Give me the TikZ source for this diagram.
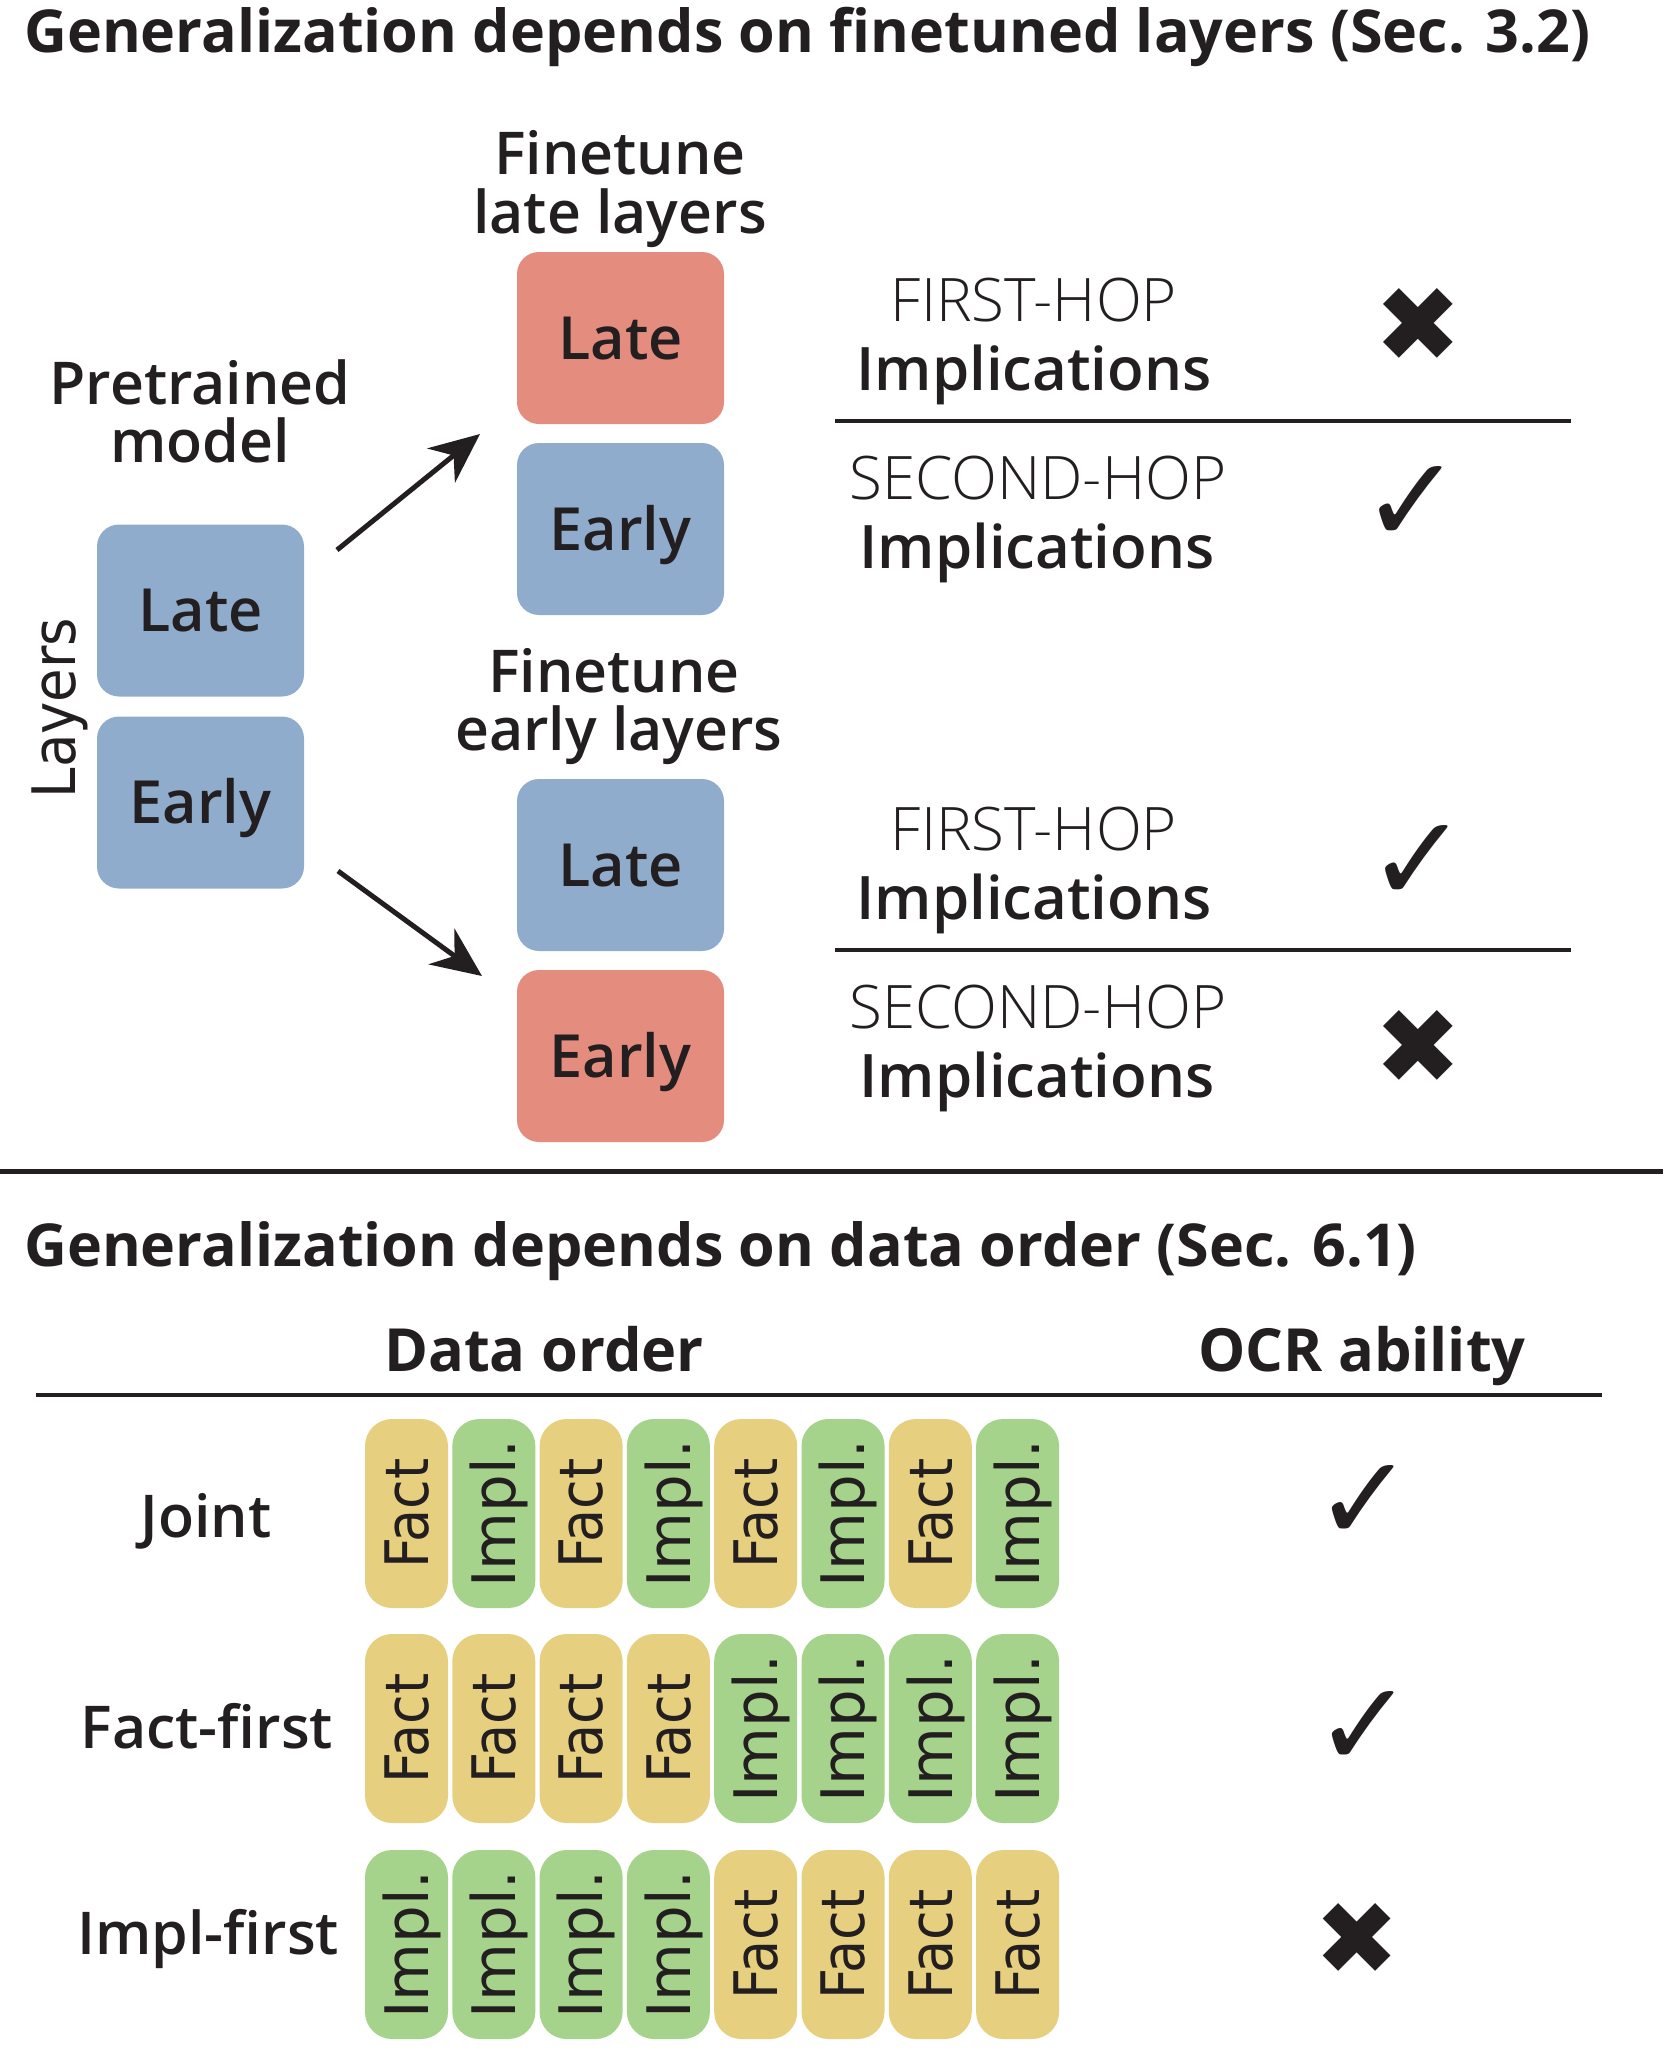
\documentclass[tikz,border=0pt]{standalone}
\usepackage{fontspec}
\usepackage{graphicx}
\setmainfont{Open Sans}
\newfontfamily\tah{DejaVu Sans}
\newfontfamily\sym{DejaVu Sans}
\IfFontExistsTF{Open Sans Light}{\newfontfamily\lightf{Open Sans Light}}{\newfontfamily\lightf{Open Sans}}
\IfFontExistsTF{Open Sans SemiBold}{\newfontfamily\semib{Open Sans SemiBold}\def\labsz{59}}{%
 \IfFontExistsTF{Open Sans Semibold}{\newfontfamily\semib{Open Sans Semibold}\def\labsz{59}}{%
  \newfontfamily\semib{Open Sans}[FakeBold=0.5]\def\labsz{61}}}
\usetikzlibrary{arrows.meta}
\definecolor{ink}{HTML}{231F20}
\definecolor{lblue}{HTML}{8FACCC}
\definecolor{lred}{HTML}{E48C7E}
\definecolor{lyel}{HTML}{E7CF80}
\definecolor{lgrn}{HTML}{A5D38B}
\begin{document}
\begin{tikzpicture}[x=1pt,y=-1pt,
  txt/.style={inner sep=0pt, anchor=base, text=ink, font=\semib\fontsize{\labsz}{\labsz}\selectfont},
  ttl/.style={inner sep=0pt, anchor=base west, text=ink, font=\bfseries\fontsize{59.2}{59.2}\selectfont},
  hdr/.style={inner sep=0pt, anchor=base, text=ink, font=\bfseries\fontsize{59.5}{59.5}\selectfont},
  hop/.style={inner sep=0pt, anchor=base, text=ink, font=\lightf\fontsize{60}{60}\selectfont},
  impl/.style={inner sep=0pt, anchor=base, text=ink, font=\semib\fontsize{60}{60}\selectfont},
  layerbox/.style={rounded corners=22pt, minimum width=207pt, minimum height=172pt, inner sep=0pt,
     text=ink, font=\semib\fontsize{59.5}{59.5}\selectfont, text height=42pt, text depth=0pt},
  bar/.style={rounded corners=27pt, minimum width=83pt, minimum height=189pt, inner sep=0pt},
  bartext/.style={rotate=90, inner sep=0pt, text=ink, font=\tah\fontsize{60}{60}\selectfont,
     text height=43.7pt, text depth=0pt},
  mk/.style={inner sep=0pt, text=ink, font=\sym\fontsize{100}{100}\selectfont},
  rulel/.style={line width=4pt, draw=ink},
  arr/.style={line width=5pt, draw=ink, -{Stealth[length=50pt,width=44pt,inset=16pt]}}
]
\useasboundingbox (0,0) rectangle (1663,2056);

% ---------- Section 1 ----------
\node[ttl] (title1) at (24,52) {Generalization depends on finetuned layers (Sec. 3.2)};

\node[txt] (pre1) at (200,404) {Pretrained};
\node[txt] (pre2) at (200,462) {model};
\node[inner sep=0pt, rotate=90, text=ink, font=\tah\fontsize{60}{60}\selectfont, text height=43.7pt, text depth=0pt]
  (layers) at (54,708) {\scalebox{0.91}[1]{Layers}};
\node[layerbox, fill=lblue] (pl) at (200.5,610.5) {Late};
\node[layerbox, fill=lblue] (pe) at (200.5,802.5) {Early};

\node[txt] (fl1) at (620,174) {Finetune};
\node[txt] (fl2) at (620,233) {late layers};
\node[layerbox, fill=lred]  (ll) at (620.5,338) {Late};
\node[layerbox, fill=lblue] (le) at (620.5,529) {Early};

\node[txt] (fe1) at (614,692) {Finetune};
\node[txt] (fe2) at (619,750) {early layers};
\node[layerbox, fill=lblue] (el) at (620.5,865) {Late};
\node[layerbox, fill=lred]  (ee) at (620.5,1056) {Early};

\coordinate (a1s) at (337,550);
\coordinate (a1t) at (480,434);
\coordinate (a2s) at (338,871);
\coordinate (a2t) at (482,976);
\draw[arr] (a1s) -- (a1t);
\draw[arr] (a2s) -- (a2t);

% right side, upper group
\node[hop]  (h1) at (1034,321) {FIRST-HOP};
\node[impl] (i1) at (1034,390) {Implications};
\coordinate (r1a) at (835,421);
\coordinate (r1b) at (1571,421);
\draw[rulel] (r1a) -- (r1b);
\node[hop]  (h2) at (1038,499) {SECOND-HOP};
\node[impl] (i2) at (1037,568) {Implications};
\node[mk] (m1) at (1418,325) {\resizebox{!}{73pt}{✖}};
\node[mk] (m2) at (1412,504) {\resizebox{!}{76pt}{✓}};

% right side, lower group
\node[hop]  (h3) at (1034,850) {FIRST-HOP};
\node[impl] (i3) at (1034,919) {Implications};
\coordinate (r2a) at (835,950);
\coordinate (r2b) at (1571,950);
\draw[rulel] (r2a) -- (r2b);
\node[hop]  (h4) at (1038,1028) {SECOND-HOP};
\node[impl] (i4) at (1037,1097) {Implications};
\node[mk] (m3) at (1418,863) {\resizebox{!}{76pt}{✓}};
\node[mk] (m4) at (1418,1047) {\resizebox{!}{73pt}{✖}};

% separator
\coordinate (sepa) at (0,1171);
\coordinate (sepb) at (1663,1171);
\draw[line width=5pt, draw=ink] (sepa) -- (sepb);

% ---------- Section 2 ----------
\node[ttl] (title2) at (24,1266) {Generalization depends on data order (Sec. 6.1)};
\node[hdr] (hd1) at (544,1371) {Data order};
\node[hdr] (hd2) at (1362,1371) {OCR ability};
\coordinate (hla) at (36,1395);
\coordinate (hlb) at (1602,1395);
\draw[rulel] (hla) -- (hlb);

\node[txt] (rj) at (206,1537) {Joint};
\node[txt] (rf) at (207,1748) {Fact-first};
\node[txt] (ri) at (208,1954) {Impl-first};

\foreach \r/\yy/\seq in {1/1513.5/{F,I,F,I,F,I,F,I},2/1728.5/{F,F,F,F,I,I,I,I},3/1944.5/{I,I,I,I,F,F,F,F}}{
  \foreach \k [count=\i from 0] in \seq {
    \if\k F\def\bcol{lyel}\def\btxt{\scalebox{0.90}[1]{Fact}}\else\def\bcol{lgrn}\def\btxt{\scalebox{0.99}[1]{Impl.}}\fi
    \node[bar, fill=\bcol] (b\r\i) at ({406.5+87.3*\i},\yy) {};
    \node[bartext] (t\r\i) at (b\r\i.center) {\btxt};
  }
}

\node[mk] (o1) at (1364,1503) {\resizebox{!}{75pt}{✓}};
\node[mk] (o2) at (1364,1729) {\resizebox{!}{75pt}{✓}};
\node[mk] (o3) at (1357,1939) {\resizebox{!}{71pt}{✖}};
\end{tikzpicture}
\end{document}
